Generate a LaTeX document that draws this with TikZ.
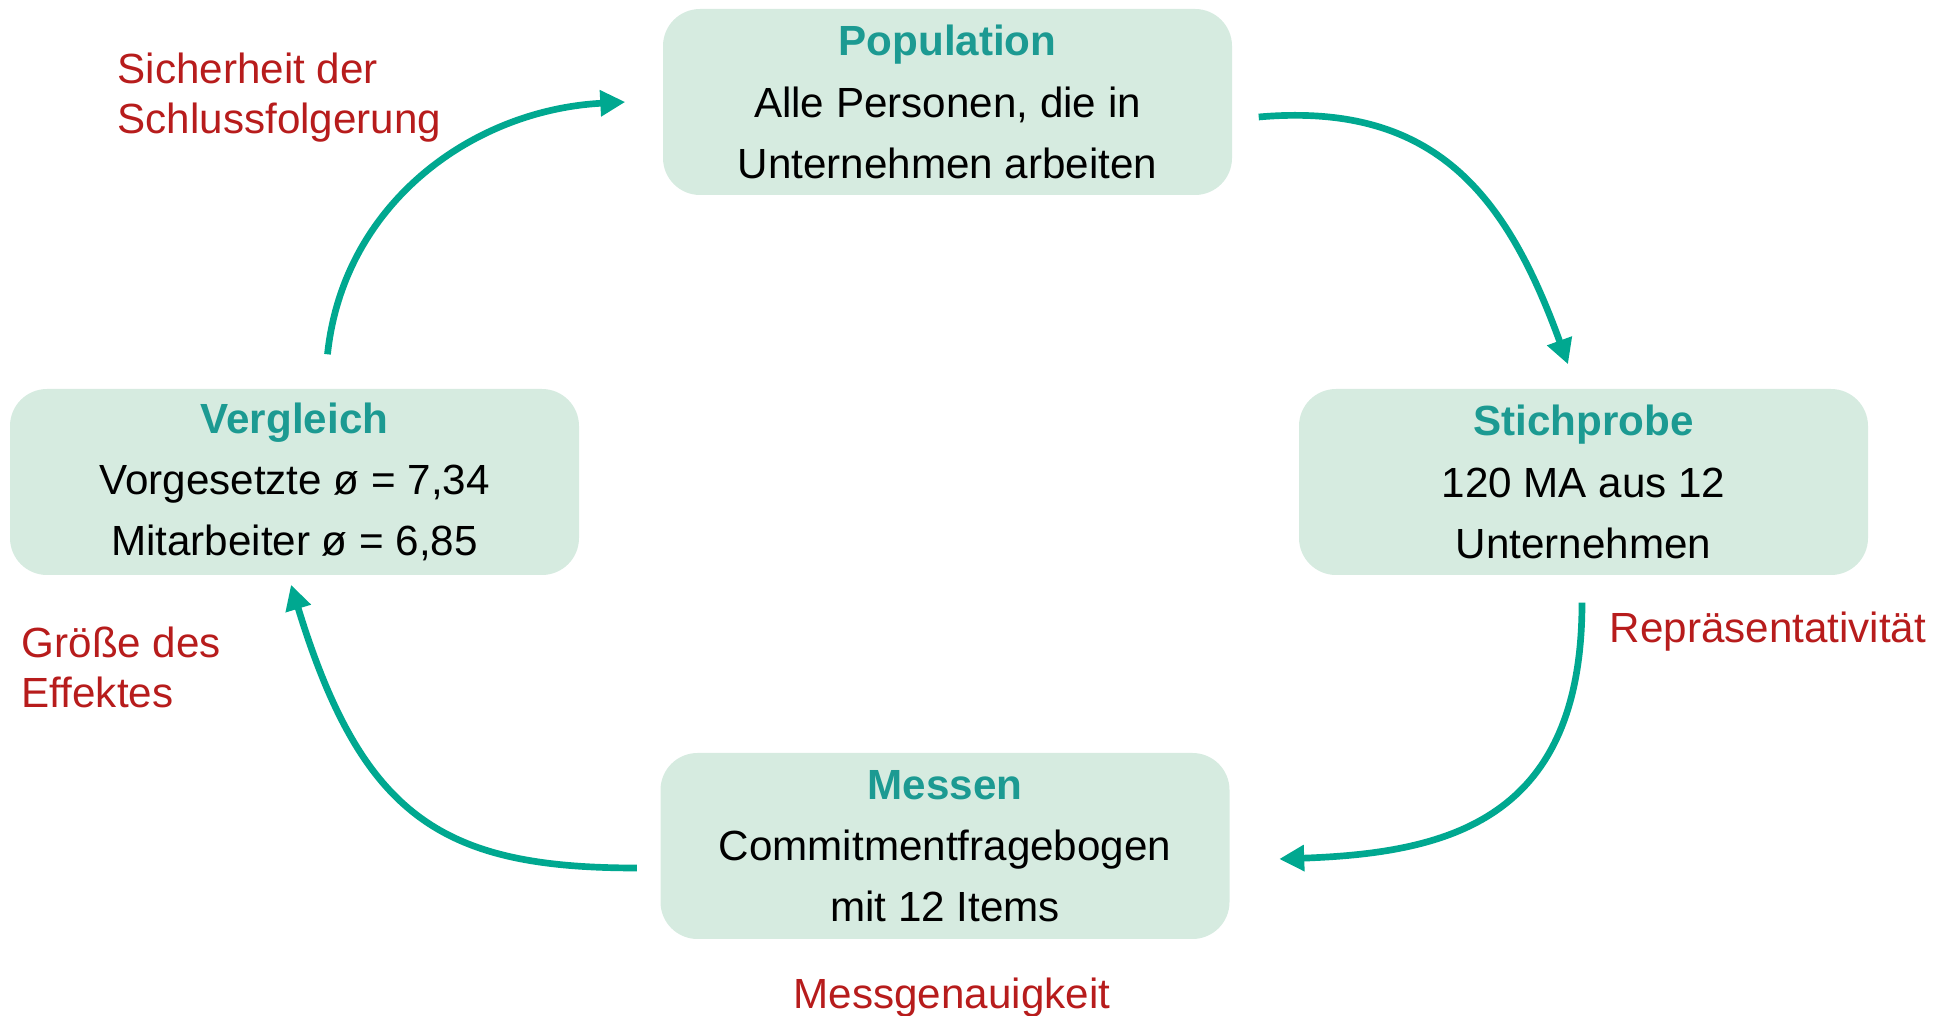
\documentclass[tikz,border=0pt]{standalone}
\usepackage{fontspec}
\setmainfont{Liberation Sans}
\usetikzlibrary{arrows.meta}

\definecolor{boxgreen}{RGB}{214,235,224}
\definecolor{titleteal}{RGB}{28,154,146}
\definecolor{arrowteal}{RGB}{0,168,144}
\definecolor{notered}{RGB}{183,28,28}

\begin{document}
\begin{tikzpicture}
\tikzset{phase/.style={rectangle, rounded corners=0.37cm, fill=boxgreen, minimum width=5.69cm, minimum height=1.86cm, align=center, font=\fontsize{12}{17.4}\selectfont}}
\tikzset{note/.style={text=notered, align=left, inner sep=0pt, font=\fontsize{12}{14.2}\selectfont}}
\tikzset{cycle/.style={draw=arrowteal, line width=1.9pt, -{Triangle[length=0.25cm,width=0.25cm]}}}
\newcommand{\phasetitle}[1]{\textcolor{titleteal}{\textbf{#1}}}
\useasboundingbox (0,0) rectangle (19.51,10.16);
% stages of the cycle
\node[phase] (pop) at (9.475,9.14) {\phasetitle{Population}\\Alle Personen, die in\\Unternehmen arbeiten};
\node[phase] (stich) at (15.835,5.34) {\phasetitle{Stichprobe}\\120 MA aus 12\\Unternehmen};
\node[phase] (mess) at (9.45,1.70) {\phasetitle{Messen}\\Commitmentfragebogen\\mit 12 Items};
\node[phase] (verg) at (2.945,5.34) {\phasetitle{Vergleich}\\Vorgesetzte ø = 7,34\\Mitarbeiter ø = 6,85};
% quality criteria
\node[note, anchor=west] (sicher) at (1.17,9.18) {Sicherheit der\\Schlussfolgerung};
\node[note, anchor=west] (repr) at (16.09,3.84) {Repräsentativität};
\node[note] (genau) at (9.52,0.18) {Messgenauigkeit};
\node[note, anchor=west] (effekt) at (0.21,3.49) {Größe des\\Effektes};
% arrows
\draw[cycle] ([shift={(0.26,-0.15)}]pop.east) to[out=5,in=110,looseness=1.15] ([shift={(-0.155,0.24)}]stich.north);
\draw[cycle] ([shift={(-0.015,-0.27)}]stich.south) to[out=-90,in=2,out looseness=1.4,in looseness=1.1] ([shift={(0.49,-0.13)}]mess.east);
\draw[cycle] ([shift={(-0.23,-0.22)}]mess.west) to[out=180,in=-73,out looseness=1.1,in looseness=1.4] ([shift={(-0.035,-0.09)}]verg.south);
\draw[cycle] ([shift={(0.33,0.34)}]verg.north) to[out=84,in=183] ([xshift=-0.37cm]pop.west);
\end{tikzpicture}
\end{document}
